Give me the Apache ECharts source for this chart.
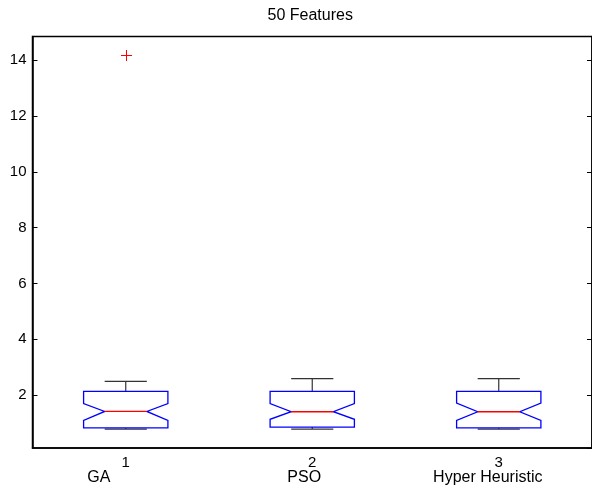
<!DOCTYPE html>
<html>
<head>
<meta charset="utf-8">
<script src="https://cdn.jsdelivr.net/npm/echarts@6/dist/echarts.min.js"></script>
<style>
  html, body { margin: 0; padding: 0; background: #fff; }
  #chart { width: 592px; height: 493px; }
</style>
</head>
<body>
<div id="chart"></div>
<script>
// Box statistics per method (notched box plot)
const positions   = ['1', '2', '3'];
const methods     = ['GA', 'PSO', 'Hyper Heuristic'];
const whiskerLow  = [0.78, 0.78, 0.78];
const q1          = [0.82, 0.85, 0.82];
const notchLow    = [1.09, 1.13, 1.09];
const median      = [1.41, 1.40, 1.40];
const notchHigh   = [1.69, 1.69, 1.71];
const q3          = [2.13, 2.13, 2.13];
const whiskerHigh = [2.49, 2.59, 2.59];
const outlierIdx  = [0];
const outlierVal  = [14.17];
const yTicks      = [2, 4, 6, 8, 10, 12, 14];
const yLimits     = [0.1, 14.85];
const title       = '50 Features';

// Horizontal shift (px) of each method name relative to its position tick
const nameShift = [-27, -8, -11];

const FONT = '"Liberation Sans", Arial, Helvetica, sans-serif';

const boxData = positions.map((p, i) => [
  i, whiskerLow[i], q1[i], notchLow[i], median[i], notchHigh[i], q3[i], whiskerHigh[i]
]);
const outlierData = outlierIdx.map((k, j) => [k, outlierVal[j]]);

function renderBox(params, api) {
  const i = api.value(0);
  const band = api.size([1, 0])[0];
  const hw = band * 0.226;
  const nw = hw / 2;
  const cx = api.coord([i, 0])[0];
  const y = v => api.coord([i, v])[1];
  const wl = y(api.value(1)), b1 = y(api.value(2)), nl = y(api.value(3));
  const md = y(api.value(4)), nh = y(api.value(5)), b3 = y(api.value(6)), wh = y(api.value(7));
  const whisk = { stroke: '#333', lineWidth: 1.2 };
  return {
    type: 'group',
    children: [
      { type: 'line', shape: { x1: cx, y1: b3, x2: cx, y2: wh }, style: whisk },
      { type: 'line', shape: { x1: cx - nw, y1: wh, x2: cx + nw, y2: wh }, style: whisk },
      { type: 'line', shape: { x1: cx, y1: b1, x2: cx, y2: wl }, style: whisk },
      { type: 'line', shape: { x1: cx - nw, y1: wl, x2: cx + nw, y2: wl }, style: whisk },
      {
        type: 'polygon',
        shape: {
          points: [
            [cx - hw, b3], [cx + hw, b3], [cx + hw, nh], [cx + nw, md], [cx + hw, nl],
            [cx + hw, b1], [cx - hw, b1], [cx - hw, nl], [cx - nw, md], [cx - hw, nh]
          ]
        },
        style: { fill: 'none', stroke: '#0000ff', lineWidth: 1.3 }
      },
      { type: 'line', shape: { x1: cx - nw, y1: md, x2: cx + nw, y2: md },
        style: { stroke: '#ff0000', lineWidth: 1.3 } }
    ]
  };
}

function renderOutlier(params, api) {
  const p = api.coord([api.value(0), api.value(1)]);
  const px = Math.round(p[0]) + 0.5, py = Math.round(p[1]) + 0.5;
  const r = 5.5;
  const st = { stroke: '#ff0000', lineWidth: 1 };
  return {
    type: 'group',
    children: [
      { type: 'line', shape: { x1: px - r, y1: py, x2: px + r, y2: py }, style: st },
      { type: 'line', shape: { x1: px, y1: py - r, x2: px, y2: py + r }, style: st }
    ]
  };
}

const yAxisCommon = {
  type: 'value',
  min: yLimits[0],
  max: yLimits[1],
  splitNumber: 7,
  splitLine: { show: false },
  axisLine: { show: true, lineStyle: { color: '#000', width: 1.5 } },
  axisTick: { show: true, inside: true, length: 5, lineStyle: { color: '#000', width: 1 } }
};

const chart = echarts.init(document.getElementById('chart'), null, { renderer: 'canvas' });
chart.setOption({
  animation: false,
  backgroundColor: '#fff',
  grid: { left: 32.5, top: 36.5, width: 562.5, height: 411.5, show: true,
          borderColor: '#000', borderWidth: 1.5 },
  xAxis: {
    type: 'category',
    data: positions,
    axisTick: { show: false },
    axisLine: { lineStyle: { color: '#000', width: 1.5 } },
    axisLabel: { color: '#000', fontSize: 15, fontFamily: FONT, margin: 7 },
    splitLine: { show: false }
  },
  yAxis: [
    Object.assign({}, yAxisCommon, {
      position: 'left',
      axisLabel: {
        color: '#000', fontSize: 15, fontFamily: FONT, margin: 6,
        showMinLabel: false, showMaxLabel: false,
        formatter: v => (yTicks.indexOf(Math.round(v * 1000) / 1000) >= 0 ? String(v) : '')
      }
    }),
    Object.assign({}, yAxisCommon, {
      position: 'right',
      axisLabel: { show: false }
    })
  ],
  series: [
    {
      type: 'custom',
      renderItem: renderBox,
      encode: { x: 0, y: [1, 2, 3, 4, 5, 6, 7] },
      data: boxData,
      z: 3
    },
    {
      type: 'custom',
      renderItem: renderOutlier,
      encode: { x: 0, y: 1 },
      data: outlierData,
      z: 3
    }
  ]
});

// Title and method names under the position labels
const plotCenter = (chart.convertToPixel({ xAxisIndex: 0 }, 0) + chart.convertToPixel({ xAxisIndex: 0 }, 2)) / 2;
const graphics = [{
  type: 'text',
  x: plotCenter - 2, y: 16,
  style: { text: title, font: '16px ' + FONT, fill: '#000', align: 'center', verticalAlign: 'middle' }
}];
methods.forEach((name, i) => {
  graphics.push({
    type: 'text',
    x: chart.convertToPixel({ xAxisIndex: 0 }, i) + nameShift[i],
    y: 478,
    style: { text: name, font: '16px ' + FONT, fill: '#000', align: 'center', verticalAlign: 'middle' }
  });
});
chart.setOption({ graphic: graphics });
</script>
</body>
</html>
